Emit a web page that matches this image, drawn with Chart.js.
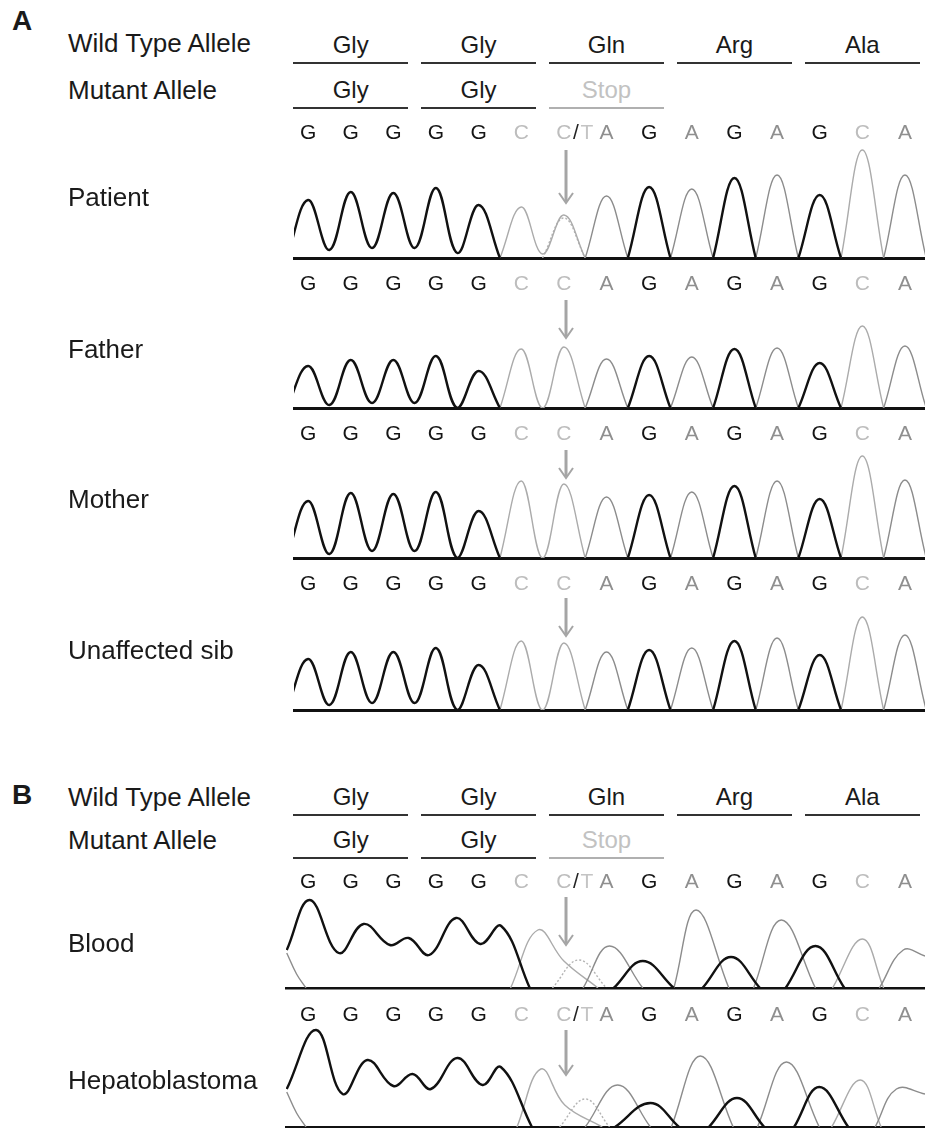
<!DOCTYPE html>
<html>
<head>
<meta charset="utf-8">
<script src="https://cdn.jsdelivr.net/npm/chart.js@4.4.1/dist/chart.umd.min.js"></script>
<style>
  body { margin: 0; background: #fff; }
  #fig { position: relative; width: 925px; height: 1130px; overflow: hidden;
         font-family: "Liberation Sans", Arial, sans-serif; color: #1a1a1a; }
  .lab { position: absolute; font-size: 26px; line-height: 30px; white-space: nowrap; }
  .panel { position: absolute; font-size: 28px; line-height: 30px; font-weight: bold; }
  .codon { position: absolute; font-size: 24px; line-height: 28px; text-align: center;
           padding-bottom: 3px; border-bottom: 2px solid #333; }
  .trace { position: absolute; left: 0; }
</style>
</head>
<body>
<div id="fig"></div>
<script>
// called bases of the read (same for every trace)
const bases = ['G','G','G','G','G','C','C','A','G','A','G','A','G','C','A'];
const wildCodons = ['Gly','Gly','Gln','Arg','Ala'];
const mutantCodons = ['Gly','Gly','Stop'];

// panel A: peak height of the called base at each position, and the dip
// between two neighbouring peaks of the same dye
const patientPeaks = [58, 66, 65, 70, 53, 51, 43, 62, 71, 69, 80, 83, 63, 108, 83];
const patientDips  = [8, 10, 10, 5, 0, 4, 0, 0, 0, 0, 0, 0, 0, 0];
const patientT     = [0, 0, 0, 0, 0, 0, 40, 0, 0, 0, 0, 0, 0, 0, 0];
const fatherPeaks  = [42, 48, 48, 52, 37, 59, 61, 49, 52, 51, 59, 60, 45, 82, 62];
const fatherDips   = [3, 5, 5, 0, 0, 0, 0, 0, 0, 0, 0, 0, 0, 0];
const motherPeaks  = [57, 65, 64, 66, 47, 77, 74, 61, 63, 66, 72, 77, 59, 102, 78];
const motherDips   = [4, 7, 7, 0, 0, 0, 0, 0, 0, 0, 0, 0, 0, 0];
const sibPeaks     = [51, 58, 58, 62, 45, 69, 67, 58, 60, 62, 69, 72, 55, 93, 75];
const sibDips      = [5, 7, 7, 0, 0, 0, 0, 0, 0, 0, 0, 0, 0, 0];

// panel B: raw dye traces, [position, signal]
const bloodG = [[-0.5,38],[0.04,88],[0.72,35],[1.3,64],[1.92,43],[2.36,50],[2.84,33],[3.47,70],[4.04,44],[4.53,62],[5.2,0], null,
                [7.17,0],[7.85,27],[8.58,0], null, [9.25,0],[9.92,31],[10.6,0], null, [11.2,0],[11.9,42],[12.58,0]];
const bloodA = [[-0.5,35],[-0.27,14],[-0.05,0], null, [6.45,0],[7.07,42],[7.85,0], null, [8.58,0],[9.1,78],[9.87,0], null,
                [10.45,0],[11.1,68],[11.9,0], null, [13.4,0],[13.96,38],[14.47,32]];
const bloodC = [[4.75,0],[5.39,58],[6.0,27],[6.8,0], null, [12.3,0],[13.0,49],[13.5,0]];
const bloodT = [[5.73,0],[6.35,28],[7.0,0]];
const hepG = [[-0.5,38],[0.19,97],[0.81,33],[1.39,67],[2.0,41],[2.45,53],[2.88,38],[3.5,69],[4.09,42],[4.52,60],[5.25,0], null,
              [7.2,0],[8.03,24],[8.7,0], null, [9.4,0],[10.06,29],[10.7,0], null, [11.4,0],[11.99,40],[12.67,0]];
const hepA = [[-0.5,35],[-0.27,14],[-0.05,0], null, [6.5,0],[7.26,42],[8.03,0], null, [8.52,0],[9.2,71],[9.97,0], null,
              [10.54,0],[11.22,65],[11.99,0], null, [13.3,0],[13.8,38],[14.47,33]];
const hepC = [[4.9,0],[5.46,58],[6.02,22],[6.9,0], null, [12.28,0],[12.95,47],[13.44,0]];
const hepT = [[5.9,0],[6.5,28],[7.07,0]];

const dye = {
  G: { color: '#111', width: 2.4 },
  A: { color: '#8c8c8c', width: 1.4 },
  C: { color: '#ababab', width: 1.4 },
  T: { color: '#b4b4b4', width: 1.4, dash: [2, 2] }
};
const letterColor = { G: '#151515', A: '#8f8f8f', C: '#bdbdbd', T: '#c4c4c4' };

const fig = document.getElementById('fig');
const X_MIN = -0.33, X_MAX = 14.47, LEFT = 294;

// one dye trace on a half-base grid, zeros away from peaks become gaps
function dyeTrace(peaks, dips, base, extra) {
  const h = bases.map((b, i) => b === base ? peaks[i] : (extra ? extra[i] : 0));
  const s = [];
  for (let k = -1; k <= 2 * bases.length - 1; k++) {
    let y;
    if (k % 2 === 0) y = h[k / 2];
    else {
      const a = (k - 1) / 2, b = (k + 1) / 2;
      y = (h[a] && h[b]) ? dips[a] : 0;
    }
    s.push({ x: k / 2, y: y || 0 });
  }
  return s.map((p, i) => {
    const near = p.y > 0 || (s[i - 1] && s[i - 1].y > 0) || (s[i + 1] && s[i + 1].y > 0);
    return { x: p.x, y: near ? p.y : null };
  });
}
function rawTrace(pairs) {
  return pairs.map(p => p ? { x: p[0], y: p[1] } : { x: null, y: null });
}
function ds(base, data) {
  const d = dye[base];
  return { data, borderColor: d.color, borderWidth: d.width, borderDash: d.dash || [],
           pointRadius: 0, tension: 0.4, fill: false, spanGaps: false };
}
function panelA(peaks, dips, alt) {
  const out = [ds('G', dyeTrace(peaks, dips, 'G')), ds('A', dyeTrace(peaks, dips, 'A')),
               ds('C', dyeTrace(peaks, dips, 'C'))];
  if (alt) out.push(ds('T', dyeTrace(peaks, dips, 'T', alt)));
  return out;
}

// draws base-call rows and the mutation arrow, positions in page pixels
const decor = {
  id: 'decor',
  afterDraw(chart, args, opts) {
    const ctx = chart.ctx, xs = chart.scales.x, top = opts.top;
    ctx.save();
    ctx.font = '21px "Liberation Sans", Arial, sans-serif';
    ctx.textAlign = 'center';
    ctx.textBaseline = 'middle';
    (opts.rows || []).forEach(r => {
      const y = r.y - top;
      bases.forEach((b, i) => {
        const x = xs.getPixelForValue(i);
        if (i === 6 && r.slash) {
          ctx.fillStyle = letterColor.C; ctx.fillText('C', x, y);
          ctx.fillStyle = '#222'; ctx.fillText('/', x + 12, y);
          ctx.fillStyle = letterColor.T; ctx.fillText('T', x + 23, y);
        } else {
          ctx.fillStyle = letterColor[b]; ctx.fillText(b, x, y);
        }
      });
    });
    if (opts.arrow) {
      const x = xs.getPixelForValue(6.05) + (opts.arrow.dx || 0);
      const y1 = opts.arrow.from - top, y2 = opts.arrow.to - top;
      ctx.strokeStyle = '#a5a5a5';
      ctx.lineWidth = 3;
      ctx.beginPath(); ctx.moveTo(x, y1); ctx.lineTo(x, y2 - 2); ctx.stroke();
      ctx.lineWidth = 2;
      ctx.beginPath(); ctx.moveTo(x - 7, y2 - 10); ctx.lineTo(x, y2); ctx.lineTo(x + 7, y2 - 10); ctx.stroke();
    }
    ctx.restore();
  }
};

function traceChart(o) {
  const wrap = document.createElement('div');
  wrap.className = 'trace';
  wrap.style.top = o.top + 'px';
  const cv = document.createElement('canvas');
  cv.width = 925; cv.height = o.height;
  wrap.appendChild(cv);
  fig.appendChild(wrap);
  const left = o.left || LEFT;
  return new Chart(cv, {
    type: 'line',
    data: { datasets: o.datasets },
    plugins: [decor],
    options: {
      responsive: false, animation: false, devicePixelRatio: 1,
      layout: { padding: { left: left, right: 0, top: o.baseline - o.yMax - o.top,
                           bottom: o.top + o.height - o.baseline } },
      scales: {
        x: { type: 'linear', min: X_MIN - (LEFT - left) / 42.64, max: X_MAX,
             grid: { display: false, drawTicks: false }, ticks: { display: false },
             border: { display: true, color: '#111', width: o.base || 3 } },
        y: { min: 0, max: o.yMax, display: false }
      },
      plugins: { legend: { display: false }, tooltip: { enabled: false },
                 decor: { top: o.top, rows: o.rows, arrow: o.arrow } }
    }
  });
}

function label(text, x, yc, cls, color) {
  const d = document.createElement('div');
  d.className = cls || 'lab';
  d.textContent = text;
  d.style.left = x + 'px';
  d.style.top = (yc - 15) + 'px';
  if (color) d.style.color = color;
  fig.appendChild(d);
}
function codonRow(chart, names, yc, dimLast) {
  const xs = chart.scales.x;
  names.forEach((n, k) => {
    const x1 = xs.getPixelForValue(3 * k - 0.35), x2 = xs.getPixelForValue(3 * k + 2.35);
    const d = document.createElement('div');
    d.className = 'codon';
    d.textContent = n;
    d.style.left = x1 + 'px';
    d.style.width = (x2 - x1) + 'px';
    d.style.top = (yc - 14) + 'px';
    if (dimLast && k === names.length - 1) { d.style.color = '#c2c2c2'; d.style.borderBottomColor = '#b0b0b0'; }
    fig.appendChild(d);
  });
}

// ---- panel A
const patient = traceChart({ top: 118, height: 182, baseline: 258, yMax: 115,
  datasets: panelA(patientPeaks, patientDips, patientT),
  rows: [{ y: 133, slash: true }, { y: 284 }], arrow: { from: 150, to: 203 } });
traceChart({ top: 296, height: 150, baseline: 408, yMax: 95,
  datasets: panelA(fatherPeaks, fatherDips),
  rows: [{ y: 434 }], arrow: { from: 300, to: 338 } });
traceChart({ top: 446, height: 150, baseline: 558, yMax: 108,
  datasets: panelA(motherPeaks, motherDips),
  rows: [{ y: 584 }], arrow: { from: 450, to: 478 } });
traceChart({ top: 596, height: 120, baseline: 710, yMax: 98,
  datasets: panelA(sibPeaks, sibDips),
  arrow: { from: 598, to: 636 } });

label('A', 12, 21, 'panel');
label('Wild Type Allele', 68, 43);
label('Mutant Allele', 68, 90);
label('Patient', 68, 197);
label('Father', 68, 349);
label('Mother', 68, 499);
label('Unaffected sib', 68, 650);
codonRow(patient, wildCodons, 45);
codonRow(patient, mutantCodons, 90, true);

// ---- panel B
const blood = traceChart({ top: 866, height: 160, baseline: 988, yMax: 100, left: 286, base: 2.5,
  datasets: [ds('G', rawTrace(bloodG)), ds('A', rawTrace(bloodA)), ds('C', rawTrace(bloodC)), ds('T', rawTrace(bloodT))],
  rows: [{ y: 882, slash: true }, { y: 1015, slash: true }], arrow: { from: 897, to: 945 } });
traceChart({ top: 1026, height: 104, baseline: 1127, yMax: 100, left: 286, base: 2,
  datasets: [ds('G', rawTrace(hepG)), ds('A', rawTrace(hepA)), ds('C', rawTrace(hepC)), ds('T', rawTrace(hepT))],
  arrow: { from: 1030, to: 1075 } });

label('B', 12, 795, 'panel');
label('Wild Type Allele', 68, 797);
label('Mutant Allele', 68, 840);
label('Blood', 68, 943);
label('Hepatoblastoma', 68, 1080);
codonRow(blood, wildCodons, 797);
codonRow(blood, mutantCodons, 840, true);
</script>
</body>
</html>
